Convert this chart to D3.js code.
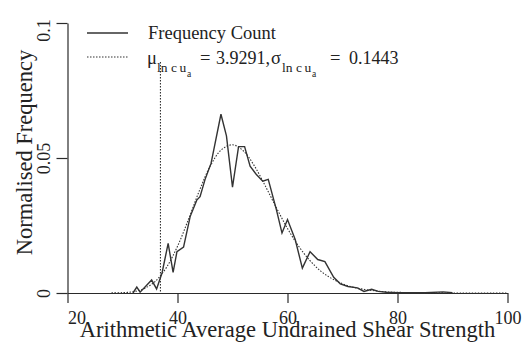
<!DOCTYPE html>
<html><head><meta charset="utf-8">
<script src="https://cdn.jsdelivr.net/npm/d3@7"></script>
<style>
body{margin:0;background:#fff;}
svg{display:block;}
</style></head>
<body><svg id="c" width="522" height="342"></svg>
<script>
// Frequency count polygon (strength value, normalised frequency)
const countX = [31.9,32.6,33.2,35.3,36.2,37.2,38.3,39.2,39.9,41.1,42.3,43.5,44.1,45.0,46.1,47.9,48.9,50.0,51.1,52.2,53.2,54.3,55.5,56.5,58.0,59.0,60.0,61.4,62.7,64.1,65.5,66.8,68.4,69.6,71.0,72.7,73.9,75.3,76.5,78.0,80.0,85.0,88.3,90.0];
const countY = [0,0.0022,0.0003,0.0048,0.0015,0.0075,0.0184,0.0076,0.0153,0.0170,0.0283,0.0344,0.0357,0.0420,0.0480,0.0662,0.0582,0.0392,0.0542,0.0542,0.0470,0.0440,0.0414,0.0421,0.0307,0.0222,0.0272,0.0198,0.0092,0.0153,0.0124,0.0116,0.0058,0.0034,0.0024,0.0019,0.0006,0.0014,0.0006,0.0003,0.0001,0.0001,0.0004,0.0001];
// Fitted lognormal curve (dotted)
const fitX = [28,30,32,34,36,38,40,42,44,46,48,50,52,54,56,58,60,62,64,66,68,70,72,74,76,78,80,84,90,100];
const fitY = [0.00003,0.00013,0.0005,0.0017,0.0044,0.0095,0.0173,0.0273,0.0380,0.0472,0.0531,0.0549,0.0526,0.0470,0.0395,0.0315,0.0239,0.0174,0.0122,0.0082,0.0054,0.0034,0.0021,0.0013,0.0008,0.0004,0.00025,0.00008,0.00002,0];
// Vertical dotted marker
const markX = 36.9;
const markTop = 0.0856;
// Ticks
const xTicks = [20,40,60,80,100];
const yTicks = [0,0.05,0.1];
const yTickLabels = ["0","0.05","0.1"];

const SERIF = '"Liberation Serif","Times New Roman",Times,serif';
const svg = d3.select("#c");
const x = d3.scaleLinear().domain([20,100]).range([67.5,507.5]);
const y = d3.scaleLinear().domain([0,0.1]).range([293,23]);
const ink = "#2a2a2a";

function T(sel){ return sel.style("font-family",SERIF).style("fill","#222"); }

// axes
const gx = svg.append("g").attr("transform","translate(0,293)")
  .call(d3.axisBottom(x).tickValues(xTicks).tickSize(10).tickSizeOuter(0).tickFormat(d3.format("d")));
const gy = svg.append("g").attr("transform","translate(67.5,0)")
  .call(d3.axisLeft(y).tickValues(yTicks).tickSize(11).tickSizeOuter(0).tickFormat((d,i)=>yTickLabels[i]));
[gx,gy].forEach(g=>{
  g.selectAll("path,line").attr("stroke",ink).attr("stroke-width",1.2);
  T(g.selectAll("text")).style("font-size","18px");
});
gx.selectAll("text").attr("y",31).attr("dy",0).attr("dx",(d,i)=>i===0?9:0);
gy.selectAll("text").attr("x",0).attr("dy",0).attr("text-anchor","middle")
  .attr("transform",(d,i)=>"rotate(-90)"+(i===2?" translate(-7,0)":""))
  .attr("y",-17.5);

// fitted curve
const fitLine = d3.line().x((d,i)=>x(fitX[i])).y((d,i)=>y(fitY[i])).curve(d3.curveCatmullRom);
svg.append("path").attr("d",fitLine(fitX)).attr("fill","none").attr("stroke","#333")
  .attr("stroke-width",1.1).attr("stroke-dasharray","1.5,1.5");

// count polygon
const cLine = d3.line().x((d,i)=>x(countX[i])).y((d,i)=>y(countY[i]));
svg.append("path").attr("d",cLine(countX)).attr("fill","none").attr("stroke","#333")
  .attr("stroke-width",1.4).attr("stroke-linejoin","miter");

// vertical marker
svg.append("line").attr("x1",x(markX)).attr("x2",x(markX)).attr("y1",y(markTop)).attr("y2",y(0))
  .attr("stroke","#333").attr("stroke-width",1.1).attr("stroke-dasharray","1.5,1.5");

// axis titles
T(svg.append("text")).attr("x",287.5).attr("y",337).attr("text-anchor","middle")
  .style("font-size","22.5px").text("Arithmetic Average Undrained Shear Strength");
T(svg.append("text")).attr("transform","translate(31.5,152.5) rotate(-90)").attr("text-anchor","middle")
  .style("font-size","22.5px").text("Normalised Frequency");

// legend
svg.append("line").attr("x1",87).attr("x2",128).attr("y1",33).attr("y2",33).attr("stroke","#333").attr("stroke-width",1.4);
svg.append("line").attr("x1",87).attr("x2",128).attr("y1",57).attr("y2",57).attr("stroke","#333").attr("stroke-width",1.1).attr("stroke-dasharray","1.5,1.5");
T(svg.append("text")).attr("x",148).attr("y",39).style("font-size","18.5px").text("Frequency Count");

const parts = [
  {t:"μ", x:147, y:64, s:18.5},
  {t:"ln c", x:157, y:72, s:13.5},
  {t:"u", x:179.5, y:72, s:13.5},
  {t:"a", x:187, y:77, s:9.5},
  {t:"=", x:200, y:64, s:18.5},
  {t:"3.9291,", x:216, y:64, s:18},
  {t:"σ", x:271, y:64, s:18.5},
  {t:"ln c", x:282, y:72, s:13.5},
  {t:"u", x:304.5, y:72, s:13.5},
  {t:"a", x:312, y:77, s:9.5},
  {t:"=", x:330, y:64, s:18.5},
  {t:"0.1443", x:349, y:64, s:18}
];
const t2 = T(svg.append("text"));
parts.forEach(p=>{
  t2.append("tspan").attr("x",p.x).attr("y",p.y).style("font-size",p.s+"px").text(p.t);
});
</script></body></html>
